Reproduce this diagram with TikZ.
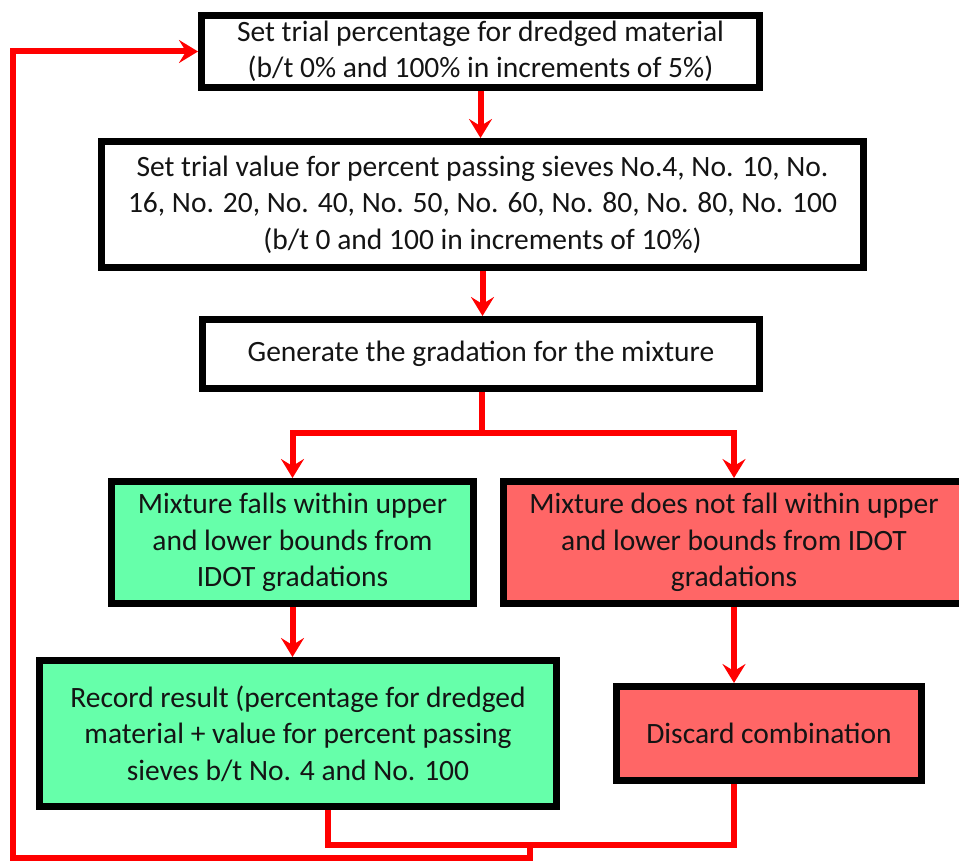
\documentclass[tikz,border=0pt]{standalone}
\usepackage{fontspec}
\setmainfont{Carlito}
\usetikzlibrary{arrows.meta}
\definecolor{boxgreen}{HTML}{66FFAA}
\definecolor{boxred}{HTML}{FF6666}
\definecolor{txt}{HTML}{141414}
\definecolor{flow}{HTML}{FF0000}
\begin{document}
\begin{tikzpicture}[x=1pt,y=-1pt,
  box/.style={draw=black, line width=7pt, inner sep=0pt, align=center, text=txt,
    font=\fontsize{29.5}{36.5}\selectfont},
  flowline/.style={draw=flow, line width=6pt},
  flowarrow/.style={flowline, -{Stealth[length=19pt,width=23pt,inset=7pt]}}]
\useasboundingbox (0,0) rectangle (959,861);
\node[box, minimum width=558pt, minimum height=72pt] (top) at (480.5,51.5)
  {Set trial percentage for dredged material\\(b/t 0\% and 100\% in increments of 5\%)};
\node[box, minimum width=762pt, minimum height=126pt] (trial) at (482.5,204.5)
  {Set trial value for percent passing sieves No.4, No. 10, No.\\16, No. 20, No. 40, No. 50, No. 60, No. 80, No. 80, No. 100\\(b/t 0 and 100 in increments of 10\%)};
\node[box, minimum width=557pt, minimum height=69pt] (gen) at (481,354)
  {Generate the gradation for the mixture};
\node[box, fill=boxgreen, minimum width=362pt, minimum height=122pt] (within) at (292.5,542.5)
  {Mixture falls within upper\\and lower bounds from\\IDOT gradations};
\node[box, fill=boxred, minimum width=461pt, minimum height=122pt] (notwithin) at (734,542.5)
  {Mixture does not fall within upper\\and lower bounds from IDOT\\gradations};
\node[box, fill=boxgreen, minimum width=517pt, minimum height=146pt] (record) at (298,733.5)
  {Record result (percentage for dredged\\material + value for percent passing\\sieves b/t No. 4 and No. 100};
\node[box, fill=boxred, minimum width=305pt, minimum height=94pt] (discard) at (769,733.5)
  {Discard combination};
\coordinate (split) at (482,433);
\coordinate (join) at (530,845);
\coordinate (low) at (530,858);
\coordinate (corner) at (13,858);
\draw[flowarrow] (top.south) -- (top.south |- trial.north);
\draw[flowarrow] (trial.south) -- (trial.south |- gen.north);
\draw[flowline] (gen.south -| split) -- (split);
\draw[flowarrow] (split) -| (within.north);
\draw[flowarrow] (split) -| (notwithin.north);
\draw[flowarrow] (within.south) -- (within.south |- record.north);
\draw[flowarrow] (notwithin.south) -- (notwithin.south |- discard.north);
\draw[flowline] (328,0 |- record.south) |- (join);
\draw[flowline] (notwithin.south |- discard.south) |- (join);
\draw[flowarrow] (join) -- (low) -- (corner) |- (top.west);
\end{tikzpicture}
\end{document}
